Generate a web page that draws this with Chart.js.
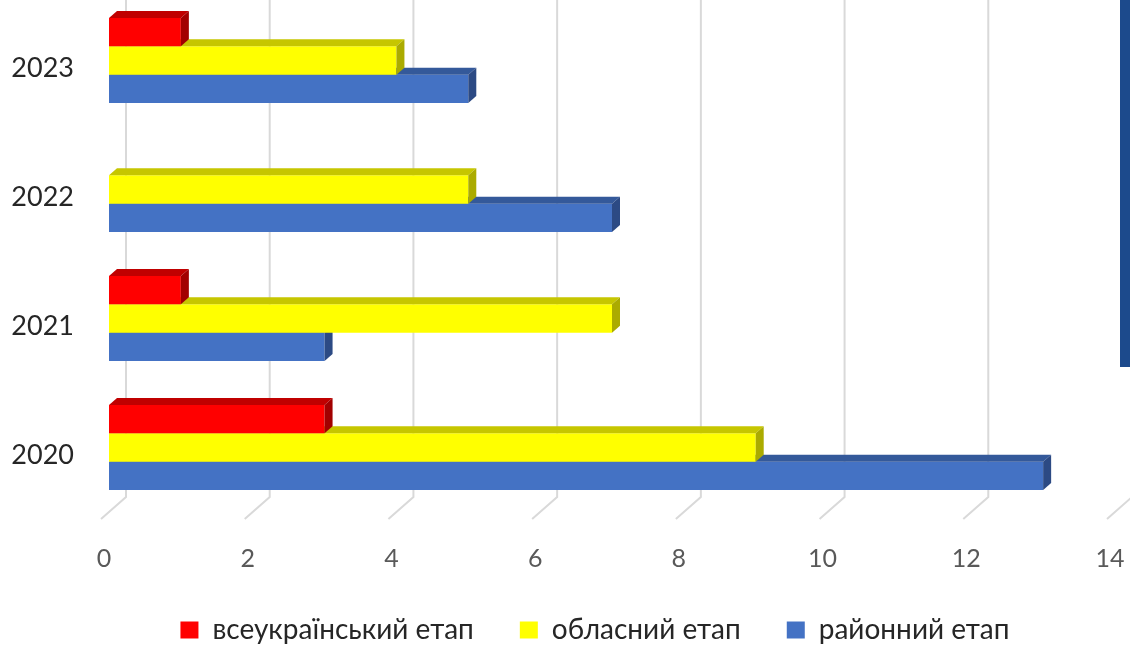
<!DOCTYPE html>
<html>
<head>
<meta charset="utf-8">
<script src="https://cdn.jsdelivr.net/npm/chart.js@4.4.0/dist/chart.umd.min.js"></script>
<style>
html,body{margin:0;padding:0;background:#ffffff;overflow:hidden;width:1130px;height:647px;}
#wrap{position:absolute;left:0;top:-4px;width:1130px;height:700px;}
#stripe{position:absolute;left:1120px;top:0;width:10px;height:367px;background:#1C4A8C;}
</style>
</head>
<body>
<div id="wrap"><canvas id="c"></canvas></div>
<div id="stripe"></div>
<script>
// ---- data ----
const years = ['2023', '2022', '2021', '2020'];
const allUkrainianStage = [1, 0, 1, 3];
const regionalStage = [4, 5, 7, 9];
const districtStage = [5, 7, 3, 13];
const seriesNames = ['всеукраїнський етап', 'обласний етап', 'районний етап'];
const xMin = 0, xMax = 14, xStep = 2;

// ---- styling ----
const FONT = 'Lato, "Open Sans", "Liberation Sans", sans-serif';
const DX = 8, DY = 7;

const backGrid = {
  id: 'backGrid',
  beforeDatasetsDraw(chart) {
    const {ctx, chartArea, scales: {x}} = chart;
    const backFloor = chartArea.bottom - 15;
    ctx.save();
    ctx.strokeStyle = '#d9d9d9';
    ctx.lineWidth = 2;
    for (let v = xMin; v <= xMax; v += xStep) {
      const gx = x.getPixelForValue(v) + 17;
      ctx.beginPath();
      ctx.moveTo(gx, 0);
      ctx.lineTo(gx, backFloor);
      ctx.lineTo(gx - 25, backFloor + 22);
      ctx.stroke();
    }
    ctx.restore();
  }
};

const depth3d = {
  id: 'depth3d',
  afterDatasetDraw(chart, args) {
    const {ctx} = chart;
    const ds = chart.data.datasets[args.index];
    args.meta.data.forEach((bar, i) => {
      if (!ds.data[i]) return;
      const p = bar.getProps(['x', 'y', 'base', 'height'], true);
      const top = p.y - p.height / 2, bottom = p.y + p.height / 2;
      ctx.save();
      ctx.fillStyle = ds.topColor;
      ctx.beginPath();
      ctx.moveTo(p.base, top);
      ctx.lineTo(p.base + DX, top - DY);
      ctx.lineTo(p.x + DX, top - DY);
      ctx.lineTo(p.x, top);
      ctx.closePath();
      ctx.fill();
      ctx.fillStyle = ds.sideColor;
      ctx.beginPath();
      ctx.moveTo(p.x, top);
      ctx.lineTo(p.x + DX, top - DY);
      ctx.lineTo(p.x + DX, bottom - DY);
      ctx.lineTo(p.x, bottom);
      ctx.closePath();
      ctx.fill();
      ctx.restore();
    });
  }
};

// widen the label clip box of the category axis so the year labels can sit left of it
const yLabelRoom = {
  id: 'yLabelRoom',
  afterLayout(chart) { chart.scales.y.left = 0; }
};

new Chart(document.getElementById('c'), {
  type: 'bar',
  data: {
    labels: years,
    datasets: [
      {label: seriesNames[0], data: allUkrainianStage, backgroundColor: '#FF0000', topColor: '#C00000', sideColor: '#A20000'},
      {label: seriesNames[1], data: regionalStage, backgroundColor: '#FFFF00', topColor: '#C6C600', sideColor: '#ABAB00'},
      {label: seriesNames[2], data: districtStage, backgroundColor: '#4472C4', topColor: '#34599A', sideColor: '#2C4A84'}
    ]
  },
  options: {
    indexAxis: 'y',
    responsive: true,
    maintainAspectRatio: false,
    animation: false,
    devicePixelRatio: 1,
    datasets: {bar: {barPercentage: 1, categoryPercentage: 0.66, borderWidth: 0}},
    layout: {padding: {left: 75, right: 15, top: 0, bottom: 42}},
    scales: {
      x: {
        type: 'linear', min: xMin, max: xMax,
        grid: {display: false, drawTicks: false},
        border: {display: false},
        ticks: {stepSize: xStep, color: '#595959', font: {family: FONT, size: 25}, padding: 32, labelOffset: -5, maxRotation: 0},
        afterFit(s) { s.height = 58; s.paddingLeft = 0; s.paddingRight = 0; }
      },
      y: {
        type: 'category',
        grid: {display: false, drawTicks: false},
        border: {display: false},
        ticks: {color: '#262626', font: {family: FONT, size: 27}, padding: 35, labelOffset: 8},
        afterFit(s) { s.width = 34; s.paddingTop = 0; s.paddingBottom = 0; }
      }
    },
    plugins: {
      legend: {
        position: 'bottom',
        labels: {color: '#262626', font: {family: FONT, size: 28}, boxWidth: 18, boxHeight: 17, padding: 46}
      },
      tooltip: {enabled: false}
    }
  },
  plugins: [backGrid, depth3d, yLabelRoom]
});
</script>
</body>
</html>
